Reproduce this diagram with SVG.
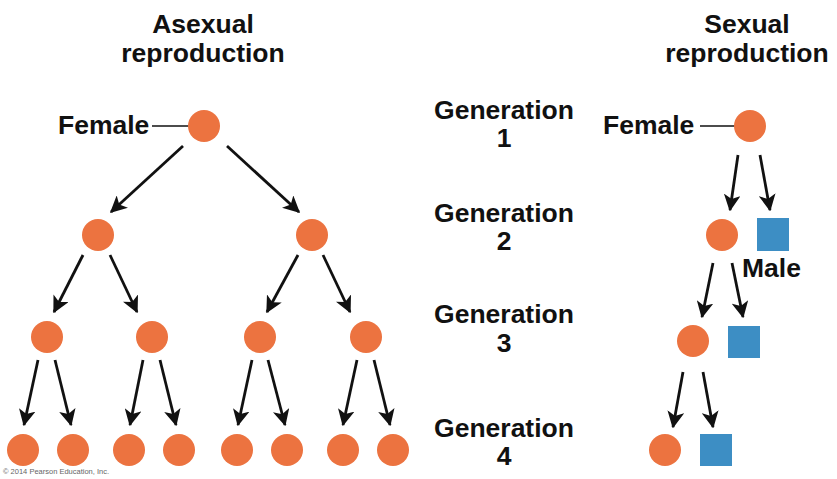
<svg xmlns="http://www.w3.org/2000/svg" width="837" height="479" viewBox="0 0 837 479">
<style>
  .t { font-family: "Liberation Sans", Arial, Helvetica, sans-serif; font-weight: bold; font-size: 26.5px; fill: #111; text-anchor: middle; }
  .lbl { text-anchor: start; }
  .f { fill: #EC7340; }
  .m { fill: #3D8EC4; }
  .arr { stroke: #111; stroke-width: 2.8; fill: none; marker-end: url(#ah); }
  .tick { stroke: #111; stroke-width: 1.6; }
  .copy { font-family: "Liberation Sans", Arial, sans-serif; font-size: 7.5px; fill: #666; }
</style>
<defs>
  <marker id="ah" viewBox="0 0 12 12" refX="11" refY="6" markerWidth="6" markerHeight="6" markerUnits="strokeWidth" orient="auto">
    <path d="M0,0 L12,6 L0,12 L3,6 Z" fill="#111"/>
  </marker>
</defs>
<rect width="837" height="479" fill="#fff"/>

<g id="titles">
  <text class="t" x="203" y="33">Asexual</text>
  <text class="t" x="203" y="62">reproduction</text>
  <text class="t" x="747" y="33">Sexual</text>
  <text class="t" x="747" y="62">reproduction</text>
</g>

<g id="generation-labels">
  <text class="t" x="504" y="119">Generation</text>
  <text class="t" x="504" y="147">1</text>
  <text class="t" x="504" y="222">Generation</text>
  <text class="t" x="504" y="250">2</text>
  <text class="t" x="504" y="323">Generation</text>
  <text class="t" x="504" y="352">3</text>
  <text class="t" x="504" y="437">Generation</text>
  <text class="t" x="504" y="465">4</text>
</g>

<g id="connectors">
  <!-- asexual -->
  <line class="tick" x1="152" y1="126" x2="189" y2="126"/>
  <line class="arr" x1="183" y1="146" x2="111" y2="212"/>
  <line class="arr" x1="227" y1="146" x2="299" y2="212"/>
  <line class="arr" x1="83" y1="255" x2="54" y2="312"/>
  <line class="arr" x1="110" y1="255" x2="137" y2="312"/>
  <line class="arr" x1="298" y1="255" x2="267" y2="312"/>
  <line class="arr" x1="323" y1="255" x2="350" y2="312"/>
  <line class="arr" x1="38" y1="360" x2="24" y2="425"/>
  <line class="arr" x1="55" y1="360" x2="71" y2="425"/>
  <line class="arr" x1="143" y1="360" x2="130" y2="425"/>
  <line class="arr" x1="160" y1="360" x2="176" y2="425"/>
  <line class="arr" x1="252" y1="360" x2="238" y2="425"/>
  <line class="arr" x1="268" y1="360" x2="285" y2="425"/>
  <line class="arr" x1="357" y1="360" x2="343" y2="425"/>
  <line class="arr" x1="374" y1="360" x2="390" y2="425"/>
  <!-- sexual -->
  <line class="tick" x1="700" y1="126" x2="735" y2="126"/>
  <line class="arr" x1="738" y1="155" x2="730" y2="210"/>
  <line class="arr" x1="760" y1="155" x2="770" y2="210"/>
  <line class="arr" x1="713" y1="263" x2="702" y2="317"/>
  <line class="arr" x1="732" y1="263" x2="743" y2="317"/>
  <line class="arr" x1="683" y1="372" x2="673" y2="427"/>
  <line class="arr" x1="703" y1="372" x2="713" y2="427"/>
</g>

<g id="asex-gen1">
  <text class="t lbl" x="58" y="134">Female</text>
  <circle class="f" cx="204" cy="126" r="16"/>
</g>
<g id="asex-gen2">
  <circle class="f" cx="98" cy="235" r="16"/>
  <circle class="f" cx="312" cy="235" r="16"/>
</g>
<g id="asex-gen3">
  <circle class="f" cx="47" cy="337" r="16"/>
  <circle class="f" cx="152" cy="337" r="16"/>
  <circle class="f" cx="260" cy="337" r="16"/>
  <circle class="f" cx="366" cy="337" r="16"/>
</g>
<g id="asex-gen4">
  <circle class="f" cx="23" cy="450" r="16"/>
  <circle class="f" cx="73" cy="450" r="16"/>
  <circle class="f" cx="129" cy="450" r="16"/>
  <circle class="f" cx="179" cy="450" r="16"/>
  <circle class="f" cx="237" cy="450" r="16"/>
  <circle class="f" cx="287" cy="450" r="16"/>
  <circle class="f" cx="343" cy="450" r="16"/>
  <circle class="f" cx="393" cy="450" r="16"/>
</g>

<g id="sex-gen1">
  <text class="t lbl" x="603" y="134">Female</text>
  <circle class="f" cx="750" cy="126" r="16"/>
</g>
<g id="sex-gen2">
  <circle class="f" cx="722" cy="235" r="16"/>
  <rect class="m" x="757" y="218" width="32" height="33"/>
  <text class="t lbl" x="742" y="277">Male</text>
</g>
<g id="sex-gen3">
  <circle class="f" cx="693" cy="341" r="16"/>
  <rect class="m" x="728" y="326" width="32" height="32"/>
</g>
<g id="sex-gen4">
  <circle class="f" cx="665" cy="450" r="16"/>
  <rect class="m" x="700" y="434" width="32" height="32"/>
</g>

<text class="copy" x="3" y="474">© 2014 Pearson Education, Inc.</text>
</svg>
